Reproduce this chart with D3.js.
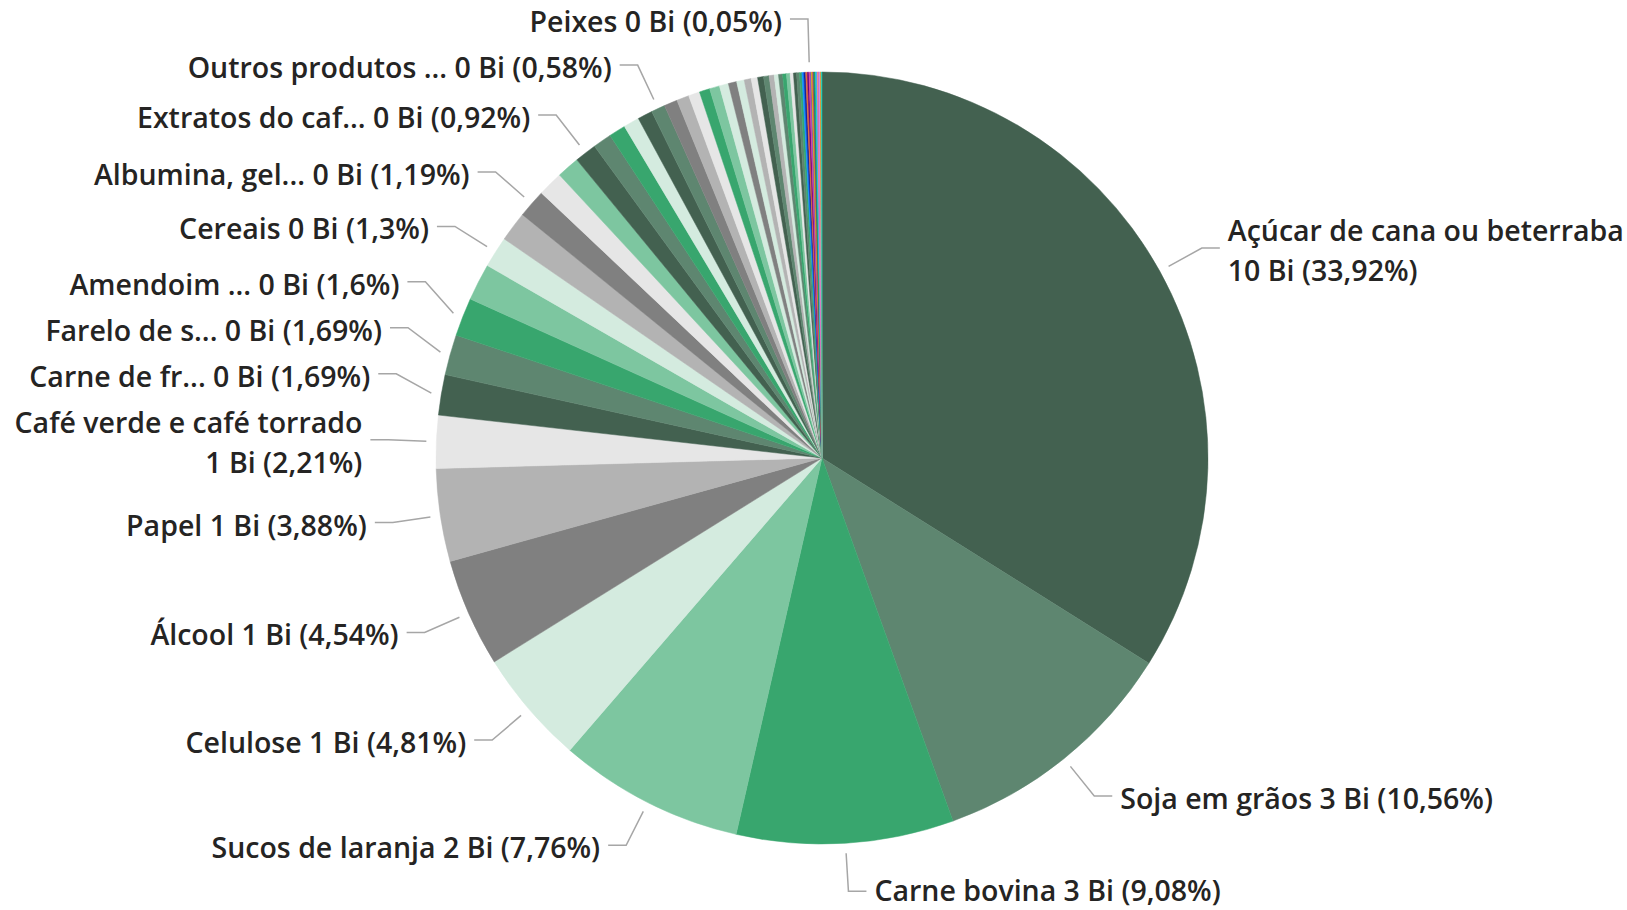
<!DOCTYPE html>
<html>
<head>
<meta charset="utf-8">
<script src="https://cdn.jsdelivr.net/npm/d3@7"></script>
<style>
  body { margin: 0; background: #fff; }
  svg { display: block; }
  .label { font-family: "Segoe UI", "Open Sans", sans-serif; font-size: 28.5px; font-weight: 600; fill: #252423; }
  .leader { fill: none; stroke: #a6a6a6; stroke-width: 1.5; }
</style>
</head>
<body>
<svg id="chart" width="1627" height="910"></svg>
<script>
// slices, clockwise from 12 o'clock (names as the chart shows them; unlabelled ones are placeholders)
var categories = [
  "Açúcar de cana ou beterraba", "Soja em grãos", "Carne bovina", "Sucos de laranja", "Celulose",
  "Álcool", "Papel", "Café verde e café torrado", "Carne de fr...", "Farelo de s...",
  "Amendoim ...", "Produto 12", "Cereais", "Produto 14", "Albumina, gel...",
  "Produto 16", "Produto 17", "Extratos do caf...", "Produto 19", "Produto 20",
  "Produto 21", "Produto 22", "Outros produtos ...", "Produto 24", "Produto 25",
  "Produto 26", "Produto 27", "Produto 28", "Produto 29", "Produto 30",
  "Produto 31", "Produto 32", "Produto 33", "Produto 34", "Produto 35",
  "Produto 36", "Produto 37", "Produto 38", "Produto 39", "Produto 40",
  "Produto 41", "Produto 42", "Produto 43", "Produto 44", "Produto 45",
  "Produto 46", "Produto 47", "Produto 48", "Peixes", "Produto 50",
  "Produto 51", "Produto 52", "Produto 53", "Produto 54", "Produto 55",
  "Produto 56", "Produto 57", "Produto 58", "Produto 59", "Produto 60",
  "Produto 61", "Produto 62", "Produto 63"
];

// share of the total, %
var shares = [
  33.92, 10.56, 9.08, 7.76, 4.81,
  4.54, 3.88, 2.21, 1.69, 1.69,
  1.6, 1.55, 1.3, 1.25, 1.19,
  1.05, 0.95, 0.92, 0.78, 0.70,
  0.66, 0.62, 0.58, 0.56, 0.52,
  0.47, 0.44, 0.42, 0.38, 0.35,
  0.32, 0.29, 0.27, 0.25, 0.23,
  0.21, 0.18, 0.17, 0.16, 0.15,
  0.14, 0.13, 0.12, 0.10, 0.08,
  0.075, 0.07, 0.065, 0.05, 0.048,
  0.046, 0.044, 0.042, 0.04, 0.038,
  0.036, 0.034, 0.032, 0.03, 0.028,
  0.026, 0.024, 0.022
];

// slices that carry a data label
var labelled = [
  "Açúcar de cana ou beterraba", "Soja em grãos", "Carne bovina", "Sucos de laranja", "Celulose",
  "Álcool", "Papel", "Café verde e café torrado", "Carne de fr...", "Farelo de s...",
  "Amendoim ...", "Cereais", "Albumina, gel...", "Extratos do caf...", "Outros produtos ...", "Peixes"
];

var totalBi = 29.4; // total in billions

// colours
var DG = "#436150", MG = "#5e8670", G = "#38a66e", LG = "#7dc6a0", VLG = "#d4ebdf",
    GY = "#808080", LGY = "#b3b3b3", VLGY = "#e6e6e6";
var sliceColors = [
  DG, MG, G, LG, VLG, GY, LGY, VLGY,
  DG, MG, G, LG, VLG, LGY, GY, VLGY, LG, DG, MG, G, VLG, DG, MG,
  GY, LGY, VLGY, G, LG, VLG, GY, VLG, LGY, VLGY, DG, MG, LGY, VLG, MG, G, LG, VLGY, DG, MG, G,
  "#118DFF", "#12239E", "#E66C37", "#6B007B", "#E044A7", "#744EC2", "#D9B300", "#D64550",
  "#197278", "#1AAB40", "#15C6F4", "#4092FF", "#FFA058", "#BE5DC9", "#F472D0", "#B5A1FF",
  "#C4A200", "#FF8080", "#00DBBC"
];

var data = categories.map(function(c, i) { return {name: c, share: shares[i]}; });

var svg = d3.select("#chart"),
    width = +svg.attr("width"),
    height = +svg.attr("height");

var cx = 822, cy = 458, radius = 386;
var g = svg.append("g").attr("transform", "translate(" + cx + "," + cy + ")");

var color = d3.scaleOrdinal(categories, sliceColors);

var pie = d3.pie()
  .sort(null)
  .value(function(d) { return d.share; });

var path = d3.arc()
  .outerRadius(radius)
  .innerRadius(0);

var arcs = pie(data);

g.selectAll(".slice")
  .data(arcs)
  .enter().append("path")
  .attr("class", "slice")
  .attr("d", path)
  .attr("fill", function(d) { return color(d.data.name); })
  .attr("stroke", function(d) { return color(d.data.name); })
  .attr("stroke-width", 0.5);

// labels
var lineH = 40, innerR = radius + 10, elbowR = 434, run = 18, gap = 8, pad = 6;
var pct = function(v) { return v.toLocaleString("pt-BR", {maximumFractionDigits: 2}) + "%"; };

// measure text width
var probe = svg.append("text").attr("class", "label");
function textWidth(s) { probe.text(s); return probe.node().getComputedTextLength(); }

var labels = arcs.filter(function(d) { return labelled.indexOf(d.data.name) >= 0; }).map(function(d) {
  var mid = (d.startAngle + d.endAngle) / 2;
  var side = Math.sin(mid) >= 0 ? 1 : -1;
  var val = Math.round(d.data.share / 100 * totalBi) + " Bi (" + pct(d.data.share) + ")";
  var y = -elbowR * Math.cos(mid);
  var ex = side * Math.sqrt(Math.max(elbowR * elbowR - y * y, 0));
  var tx = cx + ex + side * (run + gap);
  var room = side > 0 ? width - tx : tx;
  var full = d.data.name + " " + val;
  var lines = textWidth(full) > room ? [d.data.name, val] : [full];
  return {d: d, mid: mid, side: side, y: y, lines: lines, h: lines.length * lineH + pad};
});
probe.remove();

// push labels apart, biggest slices keep their place
var placed = [];
labels.forEach(function(l) {
  var dir = 0;
  for (var k = 0; k < 50; k++) {
    var hit = placed.filter(function(p) {
      return p.side === l.side && Math.abs(p.y - l.y) < (p.h + l.h) / 2 - 0.5;
    })[0];
    if (!hit) break;
    if (dir === 0) dir = l.y < hit.y ? -1 : 1;
    l.y = hit.y + dir * (hit.h + l.h) / 2;
  }
  placed.push(l);
});

labels.forEach(function(l) {
  var ey = l.y;
  // elbow on the label ring; near the top/bottom keep it over the slice
  var ex = Math.abs(ey) < elbowR - 5
    ? l.side * Math.sqrt(elbowR * elbowR - ey * ey)
    : elbowR * Math.sin(l.mid);
  var p0 = [innerR * Math.sin(l.mid), -innerR * Math.cos(l.mid)];
  g.append("polyline")
    .attr("class", "leader")
    .attr("points", [p0, [ex, ey], [ex + l.side * run, ey]].map(function(p) { return p.join(","); }).join(" "));

  // keep the text inside the picture
  var ty = Math.min(ey + 3, height - cy - 19 - (l.lines.length - 1) * lineH / 2);
  var t = g.append("text")
    .attr("class", "label")
    .attr("text-anchor", l.side > 0 ? "start" : "end")
    .attr("x", ex + l.side * (run + gap))
    .attr("y", ty - (l.lines.length - 1) * lineH / 2);
  l.lines.forEach(function(s, i) {
    t.append("tspan")
      .attr("x", ex + l.side * (run + gap))
      .attr("dy", i === 0 ? "0.35em" : lineH)
      .text(s);
  });
});
</script>
</body>
</html>
